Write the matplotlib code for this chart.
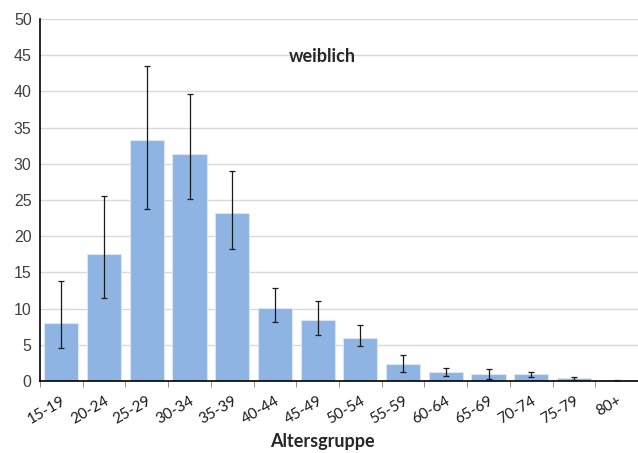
import numpy as np
import matplotlib.pyplot as plt

# Data
groups = ["15-19", "20-24", "25-29", "30-34", "35-39", "40-44", "45-49",
          "50-54", "55-59", "60-64", "65-69", "70-74", "75-79", "80+"]
values = [8.0, 17.5, 33.3, 31.3, 23.2, 10.1, 8.4, 6.0, 2.4, 1.2, 0.9, 0.9, 0.35, 0.1]
err_low = [4.5, 11.5, 23.7, 25.1, 18.2, 8.2, 6.4, 4.9, 1.3, 0.7, 0.3, 0.6, 0.1, 0.05]
err_high = [13.8, 25.6, 43.5, 39.6, 29.0, 12.8, 11.1, 7.8, 3.6, 1.8, 1.6, 1.2, 0.6, 0.15]

vals = np.array(values)
yerr = [vals - np.array(err_low), np.array(err_high) - vals]
x = np.arange(len(groups))

fig = plt.figure(figsize=(6.38, 4.53), dpi=100)
ax = fig.add_axes([40 / 638, 1 - 381 / 453, 598 / 638, 362 / 453])

ax.bar(x, vals, width=0.8, color="#8EB4E3", edgecolor="#DCE6F2", linewidth=0.8, zorder=2)
ax.errorbar(x, vals, yerr=yerr, fmt="none", ecolor="#1a1a1a", elinewidth=0.9,
            capsize=2.5, capthick=0.9, zorder=3)

ax.set_xlim(-0.5, len(groups) - 0.5)
ax.set_ylim(0, 50)
ax.set_yticks(range(0, 51, 5))
ax.yaxis.grid(True, color="#D9D9D9", linewidth=1, zorder=0)
ax.set_axisbelow(True)

for s in ["top", "right"]:
    ax.spines[s].set_visible(False)
ax.spines["left"].set_linewidth(1.2)
ax.spines["bottom"].set_linewidth(1.2)

ax.tick_params(axis="y", length=0, labelsize=11.5, labelcolor="#404040", pad=6)
for lbl in ax.get_yticklabels():
    lbl.set_family("Liberation Sans")
ax.set_xticks(np.arange(len(groups) + 1) - 0.5, minor=True)
ax.set_xticks(x)
ax.tick_params(axis="x", which="minor", length=4, color="#808080")
ax.tick_params(axis="x", which="major", length=0, pad=9)
ax.set_xticklabels(groups, rotation=30, ha="right", rotation_mode="anchor",
                   fontsize=11, family="Lato", color="#1a1a1a")

fig.text(322 / 638, 1 - 441 / 453, "Altersgruppe", ha="center", va="center",
         fontsize=13, fontweight="bold", family="Lato", color="#262626")
fig.text(322 / 638, 1 - 57 / 453, "weiblich", ha="center", va="center",
         fontsize=13, fontweight="bold", family="Lato", color="#262626")

fig.savefig("out.png", dpi=100)
